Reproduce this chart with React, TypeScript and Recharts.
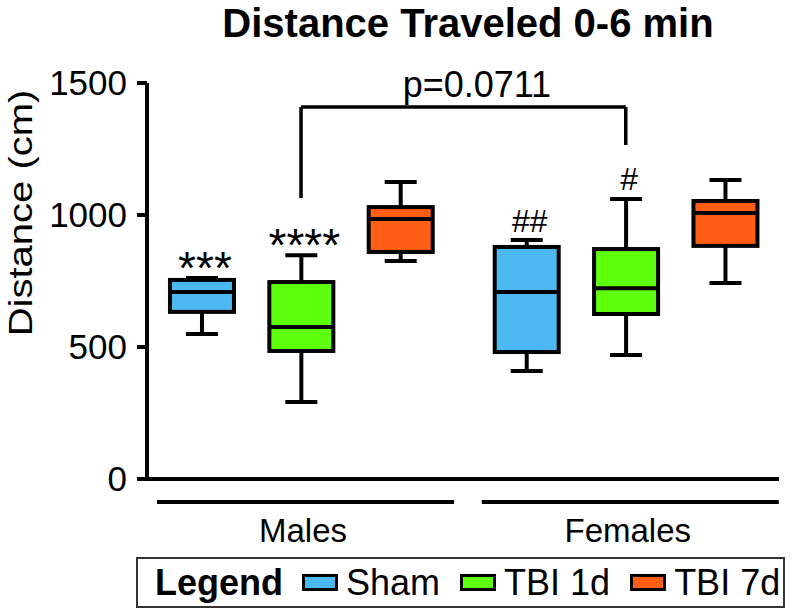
import React from 'react';
import { ComposedChart, Bar, XAxis, YAxis, ReferenceLine, ReferenceDot, LabelList } from 'recharts';

// groups on the x axis and the three treatments inside each group
const groups = ['Males', 'Females'];
const treatments = ['Sham', 'TBI 1d', 'TBI 7d'];

// box plot values (cm), order: M-Sham, M-1d, M-7d, F-Sham, F-1d, F-7d
const whiskerLow = [549, 292, 826, 409, 470, 742];
const quartile1 = [633, 485, 860, 481, 625, 883];
const medians = [708, 576, 985, 708, 723, 1008];
const quartile3 = [754, 746, 1030, 879, 871, 1053];
const whiskerHigh = [761, 848, 1125, 905, 1061, 1133];
const marks = ['***', '****', '', '##', '#', ''];

const yTicks = [0, 500, 1000, 1500];

// bracket between male TBI 1d and female TBI 1d
const pValueText = 'p=0.0711';
const bracketTop = 1409;
const bracketLeftEnd = 1064;
const bracketRightEnd = 1265;

const colors = ['#4cb8f2', '#5dff0c', '#ff5e14'];
const FONT = '"Liberation Sans", Arial, Helvetica, sans-serif';
const GROUP_GAP = 3.268; // x units between first box of each group

const data = groups.flatMap((g, gi) =>
  treatments.map((t, ti) => {
    const i = gi * treatments.length + ti;
    return {
      pos: gi * GROUP_GAP + ti,
      group: g,
      treatment: t,
      ti,
      range: [whiskerLow[i], whiskerHigh[i]],
      q1: quartile1[i],
      median: medians[i],
      q3: quartile3[i],
      mark: marks[i],
    };
  })
);

const groupCenters = groups.map((_, gi) => gi * GROUP_GAP + 1);

const BoxShape = (props: any) => {
  const { x, y, width, height, payload } = props;
  const [lo, hi] = payload.range;
  const k = height / (hi - lo);
  const py = (v: number) => y + (hi - v) * k;
  const cx = x + width / 2;
  const cap = 16;
  const yQ3 = py(payload.q3);
  const yQ1 = py(payload.q1);
  const yMed = py(payload.median);
  const bottom = y + height;
  return (
    <g stroke="#000" strokeWidth={4}>
      <line x1={cx} x2={cx} y1={y} y2={yQ3} />
      <line x1={cx} x2={cx} y1={yQ1} y2={bottom} />
      <line x1={cx - cap} x2={cx + cap} y1={y} y2={y} />
      <line x1={cx - cap} x2={cx + cap} y1={bottom} y2={bottom} />
      <rect x={x + 2} y={yQ3} width={width - 4} height={yQ1 - yQ3} fill={colors[payload.ti]} />
      <line x1={x + 2} x2={x + width - 2} y1={yMed} y2={yMed} />
    </g>
  );
};

const MarkLabel = (props: any) => {
  const { x, y, width, value } = props;
  if (!value) return null;
  const star = value.startsWith('*');
  const fs = star ? 46 : 32;
  const centerY = y - 20;
  const baseline = star ? centerY + 0.57 * fs : centerY + 0.36 * fs;
  return (
    <text x={x + width / 2 + 3} y={baseline} textAnchor="middle" fontSize={fs} fill="#000" fontFamily={FONT}>
      {value}
    </text>
  );
};

const GroupTick = (props: any) => {
  const { x, y, payload } = props;
  let gi = 0;
  groupCenters.forEach((c, i) => {
    if (Math.abs(c - payload.value) < Math.abs(groupCenters[gi] - payload.value)) gi = i;
  });
  return (
    <g>
      <line x1={x - 144} x2={x + 153} y1={y + 23} y2={y + 23} stroke="#000" strokeWidth={4} />
      <text x={x + 2} y={y + 63} textAnchor="middle" fontSize={33} fill="#000" fontFamily={FONT}>
        {groups[gi]}
      </text>
    </g>
  );
};

const Swatch = ({ color }: { color: string }) => (
  <span style={{ display: 'inline-block', width: 36, height: 17, boxSizing: 'border-box', border: '3px solid #000', background: color, marginRight: 8 }} />
);

export default function App() {
  return (
    <div style={{ position: 'absolute', left: 0, top: 0, width: 792, height: 614, background: '#fff', fontFamily: FONT }}>
      <div style={{ position: 'absolute', left: 68, top: 3, width: 800, textAlign: 'center', fontSize: 40, lineHeight: '40px', fontWeight: 'bold', color: '#000' }}>
        Distance Traveled 0-6 min
      </div>
      <div style={{ position: 'absolute', left: 20, top: 213, transform: 'translate(-50%, -50%) rotate(-90deg) scaleY(0.85)', fontSize: 40, lineHeight: '40px', whiteSpace: 'nowrap', color: '#000' }}>
        Distance (cm)
      </div>
      <div style={{ position: 'absolute', left: 0, top: 0 }}>
        <ComposedChart width={792} height={614} data={data} margin={{ top: 83, right: 13, bottom: 0, left: 0 }}>
          <XAxis
            dataKey="pos"
            type="number"
            domain={[-0.55, 5.81]}
            ticks={groupCenters}
            allowDataOverflow
            height={135}
            tickLine={false}
            tickSize={0}
            tickMargin={0}
            axisLine={{ stroke: '#000', strokeWidth: 4 }}
            tick={<GroupTick />}
          />
          <YAxis
            type="number"
            domain={[0, 1500]}
            ticks={yTicks}
            width={147}
            tickSize={10}
            tickMargin={10}
            axisLine={{ stroke: '#000', strokeWidth: 4 }}
            tickLine={{ stroke: '#000', strokeWidth: 4 }}
            tick={{ fontSize: 35, fill: '#000', fontFamily: FONT }}
          />
          <ReferenceLine segment={[{ x: groupCenters[0], y: bracketTop }, { x: groupCenters[1], y: bracketTop }]} stroke="#000" strokeWidth={3.5} ifOverflow="visible" />
          <ReferenceLine segment={[{ x: groupCenters[0], y: bracketTop }, { x: groupCenters[0], y: bracketLeftEnd }]} stroke="#000" strokeWidth={3.5} ifOverflow="visible" />
          <ReferenceLine segment={[{ x: groupCenters[1], y: bracketTop }, { x: groupCenters[1], y: bracketRightEnd }]} stroke="#000" strokeWidth={3.5} ifOverflow="visible" />
          <ReferenceDot
            x={2.77}
            y={bracketTop}
            r={0}
            stroke="none"
            fill="none"
            ifOverflow="visible"
            label={{ value: pValueText, position: 'top', offset: 10, fontSize: 36, fill: '#000', fontFamily: FONT }}
          />
          <Bar dataKey="range" barSize={68} isAnimationActive={false} shape={<BoxShape />}>
            <LabelList dataKey="mark" content={<MarkLabel />} />
          </Bar>
        </ComposedChart>
      </div>
      <div
        style={{
          position: 'absolute', left: 136, top: 557, width: 649, height: 51, boxSizing: 'border-box',
          border: '2px solid #333', display: 'flex', alignItems: 'center', paddingLeft: 17,
          fontSize: 36, color: '#000', whiteSpace: 'nowrap',
        }}
      >
        <span style={{ fontWeight: 'bold', marginRight: 19 }}>Legend</span>
        {treatments.map((t, i) => (
          <span key={t} style={{ display: 'flex', alignItems: 'center', marginRight: 20 }}>
            <Swatch color={colors[i]} />
            {t}
          </span>
        ))}
      </div>
    </div>
  );
}
